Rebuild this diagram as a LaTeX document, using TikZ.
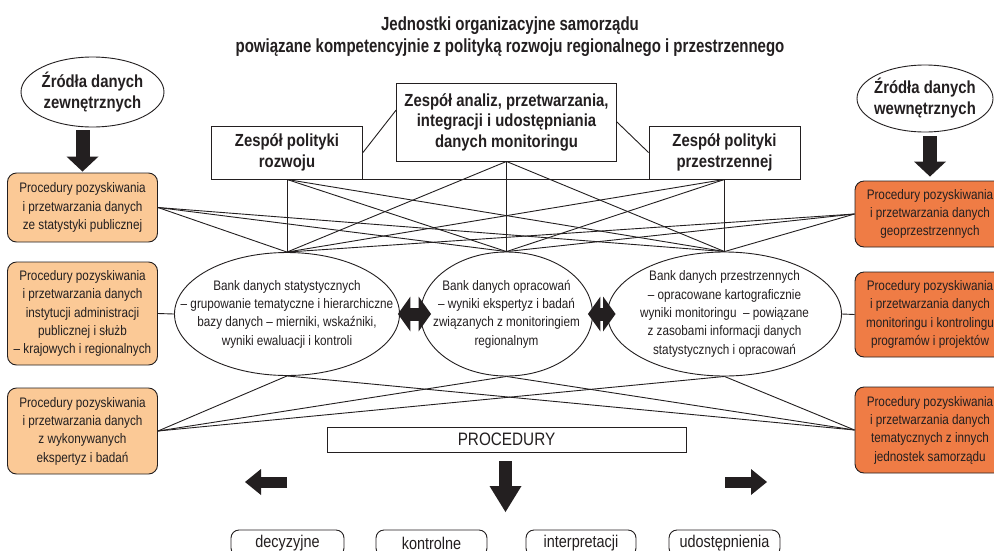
\documentclass[tikz,border=0pt]{standalone}
\usepackage{fontspec}
\setmainfont{Liberation Sans}[FakeStretch=0.85]
\newfontfamily\titlefont{Liberation Sans}[FakeStretch=0.79]
\usetikzlibrary{shapes.geometric,arrows.meta,calc}

\definecolor{ink}{HTML}{231F20}
\definecolor{lightor}{HTML}{FBC996}
\definecolor{darkor}{HTML}{EF7C45}

\tikzset{
  conn/.style={draw=ink, line width=0.9pt},
  procbox/.style={draw=ink, line width=0.9pt, rounded corners=9pt, align=center,
    text=ink, inner sep=0pt, minimum width=150pt,
    font=\fontsize{13.8}{18.3}\selectfont},
  procL/.style={procbox, fill=lightor},
  procR/.style={procbox, fill=darkor},
  team/.style={draw=ink, line width=0.9pt, fill=white, align=center, text=ink,
    inner sep=0pt, font=\bfseries\fontsize{17.5}{20.5}\selectfont},
  oval/.style={ellipse, draw=ink, line width=0.9pt, inner sep=0pt},
  bigtext/.style={align=center, text=ink, inner sep=0pt,
    font=\bfseries\fontsize{17.5}{21}\selectfont},
  banktext/.style={align=center, text=ink, inner sep=0pt,
    font=\fontsize{13.8}{18.3}\selectfont},
  outbox/.style={draw=ink, line width=0.9pt, rounded corners=8pt, text=ink,
    inner sep=0pt, minimum height=26pt, font=\fontsize{17}{20}\selectfont},
  blockarrow/.style={draw=ink, line width=14pt,
    -{Triangle[width=32pt,length=15pt,line width=0pt]}},
  smallarrow/.style={draw=ink, line width=11pt,
    -{Triangle[width=26pt,length=16pt,line width=0pt]}},
  downarrow/.style={draw=ink, line width=13pt,
    -{Triangle[width=32pt,length=26pt,line width=0pt]}},
  dblarrow/.style={draw=ink, line width=13pt,
    {Triangle[width=35pt,length=12.5pt,line width=0pt]}-{Triangle[width=35pt,length=12.5pt,line width=0pt]}},
}

\begin{document}
\begin{tikzpicture}[x=1pt, y=-1pt]
\useasboundingbox (0,0) rectangle (994,550);
\fill[white] (0,0) rectangle (994,550);
\clip (0,0) rectangle (994,550);

% heading
\node[align=center, text=ink, inner sep=0pt, font=\titlefont\bfseries\fontsize{19}{22}\selectfont]
  (title) at (510,37)
  {Jednostki organizacyjne samorządu\\powiązane kompetencyjnie z polityką rozwoju regionalnego i przestrzennego};

% data sources
\node[oval, minimum width=143pt, minimum height=70pt] (srcL) at (92.5,92) {};
\node[bigtext] (srcLt) at (srcL.center) {Źródła danych\\zewnętrznych};
\node[oval, minimum width=136pt, minimum height=67pt] (srcR) at (925,98.5) {};
\node[bigtext] (srcRt) at (srcR.center) {Źródła danych\\wewnętrznych};

% acquisition procedures, left
\node[procL, minimum height=69pt] (L1) at (82.5,207.5)
  {Procedury pozyskiwania\\i przetwarzania danych\\ze statystyki publicznej};
\node[procL, minimum height=103pt] (L2) at (82.5,313.5)
  {Procedury pozyskiwania\\i przetwarzania danych\\instytucji administracji\\publicznej i służb\\– krajowych i regionalnych};
\node[procL, minimum height=86pt] (L3) at (82.5,431)
  {Procedury pozyskiwania\\i przetwarzania danych\\z wykonywanych\\ekspertyz i badań};

% acquisition procedures, right
\node[procR, minimum height=66pt] (R1) at (930,214)
  {Procedury pozyskiwania\\i przetwarzania danych\\geoprzestrzennych};
\node[procR, minimum height=85pt] (R2) at (930,314.5)
  {Procedury pozyskiwania\\i przetwarzania danych\\monitoringu i kontrolingu\\programów i projektów};
\node[procR, minimum height=86pt] (R3) at (930,430)
  {Procedury pozyskiwania\\i przetwarzania danych\\tematycznych z innych\\jednostek samorządu};

% teams
\node[team, minimum width=151pt, minimum height=53pt] (rozwoj) at (287,152.5)
  {Zespół polityki\\rozwoju};
\node[team, minimum width=220pt, minimum height=78pt] (analiz) at (506.5,122)
  {Zespół analiz, przetwarzania,\\integracji i udostępniania\\danych monitoringu};
\node[team, minimum width=151pt, minimum height=53pt] (przestrz) at (724.5,152.5)
  {Zespół polityki\\przestrzennej};

% data banks
\node[oval, minimum width=225pt, minimum height=123pt] (E1) at (287,314) {};
\node[banktext] (E1t) at (E1.center)
  {Bank danych statystycznych\\– grupowanie tematyczne i hierarchiczne\\bazy danych – mierniki, wskaźniki,\\wyniki ewaluacji i kontroli};
\node[oval, minimum width=172pt, minimum height=124pt] (E2) at (506.5,314) {};
\node[banktext] (E2t) at (E2.center)
  {Bank danych opracowań\\– wyniki ekspertyz i badań\\związanych z monitoringiem\\regionalnym};
\node[oval, minimum width=234pt, minimum height=124pt] (E3) at (724.5,314) {};
\node[banktext] (E3t) at (E3.center)
  {Bank danych przestrzennych\\– opracowane kartograficznie\\wyniki monitoringu \ – powiązane\\z zasobami informacji danych\\statystycznych i opracowań};

% procedures
\node[draw=ink, line width=0.9pt, minimum width=359pt, minimum height=25pt, inner sep=0pt,
  text=ink, font=\fontsize{18}{20}\selectfont] (proc) at (506.5,439.5) {PROCEDURY};

\node[outbox, minimum width=113pt] (dec) at (287.5,543) {decyzyjne};
\node[outbox, minimum width=111pt] (kon) at (431.5,543) {kontrolne};
\node[outbox, minimum width=110pt] (inte) at (581,543) {interpretacji};
\node[outbox, minimum width=111pt] (udo) at (724.5,543) {udostępnienia};

% links between teams
\draw[conn] (rozwoj.east) -- ($(analiz.north west)!0.35!(analiz.south west)$);
\draw[conn] (analiz.east) -- (przestrz.west);
\draw[conn] (rozwoj.south east) -- (przestrz.south west);

% web of links to the data banks
\foreach \s in {rozwoj.south, analiz.south, przestrz.south, L1.east, R1.west}
  \foreach \e in {E1, E2, E3}
    \draw[conn] (\s) -- (\e.north);
\foreach \s in {L3.east, R3.west}
  \foreach \e in {E1, E2, E3}
    \draw[conn] (\s) -- (\e.south);
\draw[conn] (L2.east) -- (E1.west);
\draw[conn] (E3.east) -- (R2.west);

% block arrows from the sources
\draw[blockarrow, shorten >=1pt] ($(srcL.south -| L1.north)+(0,3)$) -- (L1.north);
\draw[blockarrow, shorten >=4pt] ($(srcR.south -| R1.north)+(0,4)$) -- (R1.north);

% exchange between banks
\draw[dblarrow] ($(E1.east)+(-2,0)$) -- ($(E2.west)+(11,0)$);
\draw[dblarrow] ($(E2.east)+(-5,0)$) -- ($(E3.west)+(8.5,0)$);

% arrows below the procedures
\coordinate (pl0) at (287,482);
\coordinate (pl1) at (245,482);
\coordinate (pd0) at (505.5,461);
\coordinate (pd1) at (505.5,512);
\coordinate (pr0) at (725,482);
\coordinate (pr1) at (767,482);
\draw[smallarrow] (pl0) -- (pl1);
\draw[downarrow] (pd0) -- (pd1);
\draw[smallarrow] (pr0) -- (pr1);
\end{tikzpicture}
\end{document}
